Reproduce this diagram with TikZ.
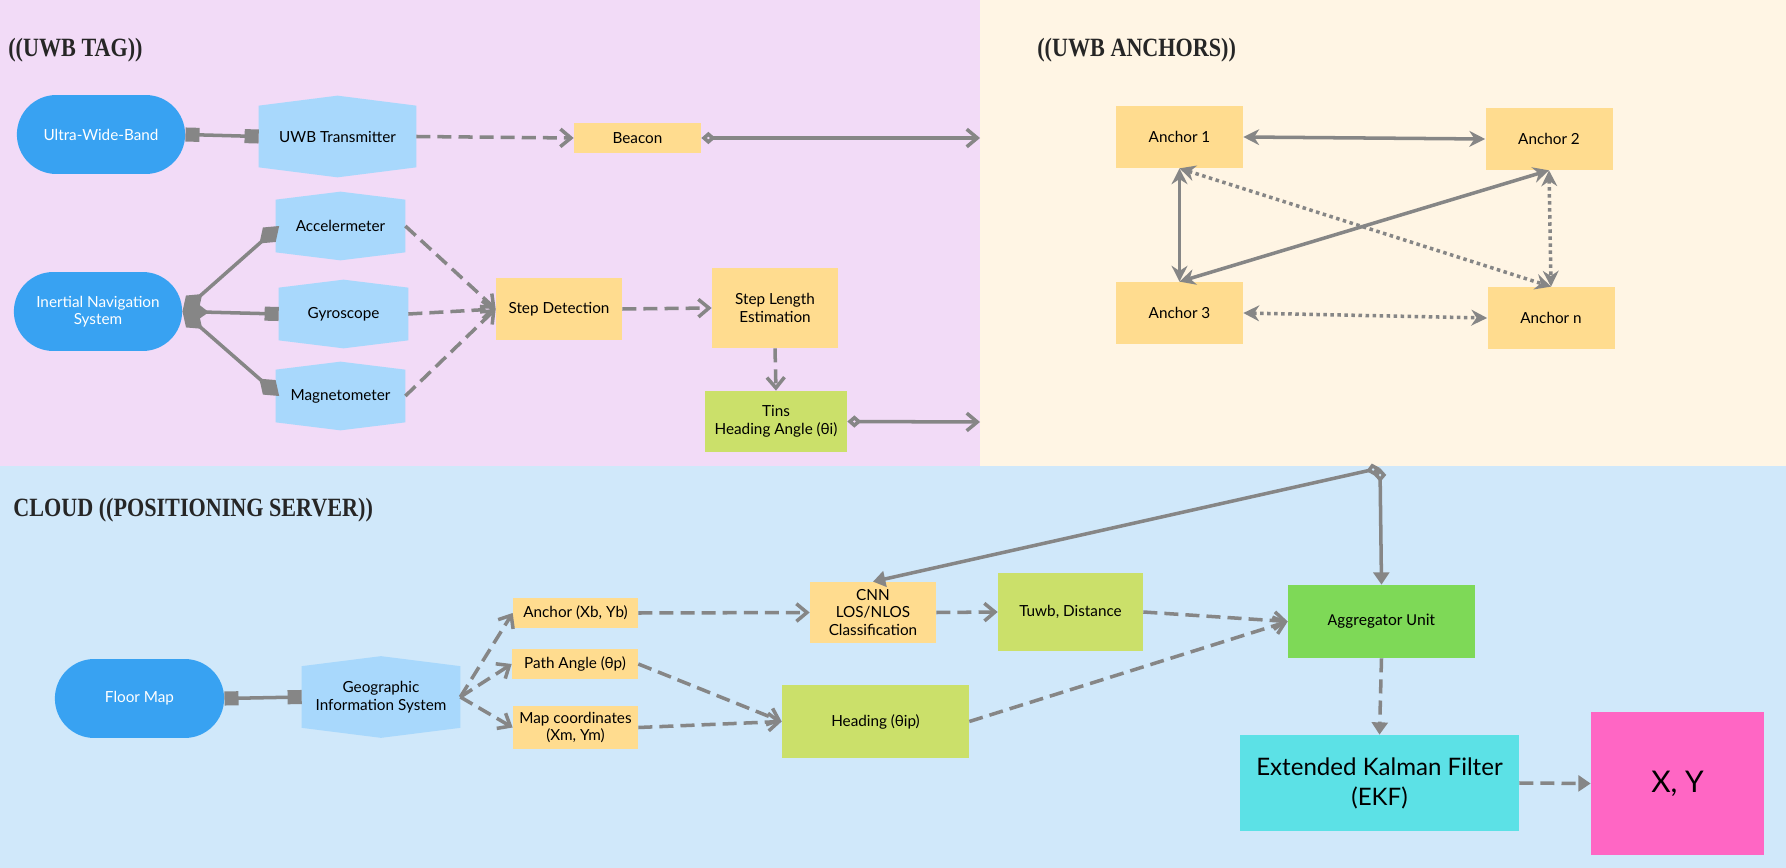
\documentclass[tikz,border=0pt]{standalone}
\usepackage{fontspec}
\setmainfont{Lato}
\newfontfamily\titlefont{Liberation Serif}[FakeStretch=0.84]
\newfontfamily\calfont{Carlito}
\usetikzlibrary{arrows.meta,shapes.misc,positioning}

\definecolor{tagbg}{HTML}{F2DBF7}
\definecolor{anchbg}{HTML}{FFF5E4}
\definecolor{cloudbg}{HTML}{D0E8FA}
\definecolor{srcblue}{HTML}{38A2F2}
\definecolor{hexblue}{HTML}{A8D8FC}
\definecolor{boxorange}{HTML}{FFDC8F}
\definecolor{boxlime}{HTML}{CBE06A}
\definecolor{aggreen}{HTML}{7ED957}
\definecolor{ekfcyan}{HTML}{5CE1E6}
\definecolor{xypink}{HTML}{FF66C4}
\definecolor{linegray}{HTML}{868686}

\pgfdeclarelayer{bg}
\pgfdeclarelayer{hexes}
\pgfsetlayers{bg,hexes,main}

\begin{document}
\begin{tikzpicture}[x=0.02cm, y=-0.02cm,
		font=\fontsize{8.7}{10}\selectfont,
		title/.style={anchor=west, inner sep=0pt, text=black!85, font={\titlefont\bfseries\fontsize{15}{16}\selectfont}},
		src/.style={rounded rectangle, fill=srcblue, text=white, minimum width=3.6cm, minimum height=1.58cm, align=center},
		hexbox/.style={minimum width=2.58cm, minimum height=1.04cm, inner sep=0pt, align=center},
		obox/.style={fill=boxorange, minimum width=2.54cm, minimum height=1.24cm, inner sep=0pt, align=center},
		gbox/.style={fill=boxlime, inner sep=0pt, align=center},
		link/.style={draw=linegray, line width=2pt},
		dashlink/.style={link, dash pattern=on 8pt off 4pt},
		dotlink/.style={link, line width=2pt, dash pattern=on 2pt off 2pt},
		sqtip/.tip={Square[length=8pt,width=8pt]},
		dmtip/.tip={Diamond[length=15pt,width=11pt]},
		odmtip/.tip={Diamond[open,length=8pt,width=7pt]},
		barbtip/.tip={Straight Barb[length=6pt,width=10pt]},
		tritip/.tip={Triangle[length=7pt,width=9pt]},
		sttip/.tip={Stealth[length=9pt,width=9pt]},
		openhead/.style={-barbtip},
		fillhead/.style={-tritip},
		bihead/.style={sttip-sttip},
	]
	
	\useasboundingbox (0,0) rectangle (1786,868);
	
	% three areas
	\begin{pgfonlayer}{bg}
		\fill[tagbg] (0,0) rectangle (980,466);
		\fill[anchbg] (980,0) rectangle (1786,466);
		\fill[cloudbg] (0,466) rectangle (1786,868);
	\end{pgfonlayer}
	
	% uwb tag
	\node[title] (tagt) at (8,50) {((UWB TAG))};
	\node[src] (uwb) at (101,134.5) {Ultra-Wide-Band};
	\node[hexbox, minimum width=3.14cm, minimum height=1.22cm] (tx) at (337.5,136.5) {UWB Transmitter};
	\node[obox, minimum height=0.6cm] (bcn) at (637.5,138) {Beacon};
	\node[src] (ins) at (98,311.5) {Inertial Navigation\\System};
	\node[hexbox] (acc) at (340.5,226) {Accelermeter};
	\node[hexbox] (gyr) at (343.5,314) {Gyroscope};
	\node[hexbox] (mag) at (340.5,396) {Magnetometer};
	\node[obox, minimum width=2.52cm] (step) at (559,309) {Step Detection};
	\node[obox, minimum width=2.52cm, minimum height=1.6cm] (sle) at (775,308) {Step Length\\Estimation};
	\node[gbox, minimum width=2.84cm, minimum height=1.22cm] (tins) at (776,421.5) {Tins\\Heading Angle (θi)};
	\coordinate (bcnend) at (980,138);
	\coordinate (tinsend) at (980,422);
	
	\draw[link, sqtip-sqtip] (uwb.east) -- (tx.west);
	\draw[dashlink, openhead] (tx.east) -- (bcn.west);
	\draw[link, odmtip-barbtip] (bcn.east) -- (bcnend);
	\draw[link, dmtip-dmtip] (ins.east) -- ([xshift=2pt]acc.west);
	\draw[link, dmtip-sqtip] (ins.east) -- (gyr.west);
	\draw[link, dmtip-dmtip] (ins.east) -- ([xshift=2pt]mag.west);
	\foreach \s in {acc,gyr,mag}
		\draw[dashlink, openhead] (\s.east) -- (step.west);
	\draw[dashlink, openhead] (step.east) -- (sle.west);
	\draw[dashlink, openhead] (sle.south) -- (tins.north);
	\draw[link, odmtip-barbtip] (tins.east) -- (tinsend);
	
	% uwb anchors
	\node[title] (ancht) at (1037,50) {((UWB ANCHORS))};
	\node[obox] (a1) at (1179.5,137) {Anchor 1};
	\node[obox] (a2) at (1549,139) {Anchor 2};
	\node[obox] (a3) at (1179.5,313) {Anchor 3};
	\node[obox] (an) at (1551,318) {Anchor n};
	
	\draw[link, bihead] (a1.east) -- (a2.west);
	\draw[link, bihead] (a1.south) -- (a3.north);
	\draw[link, bihead] (a3.north) -- (a2.south);
	\draw[dotlink, bihead] (a1.south) -- (an.north);
	\draw[dotlink, bihead] (a2.south) -- (an.north);
	\draw[dotlink, bihead] (a3.east) -- (an.west);
	
	% cloud
	\node[title] (cloudt) at (13,510) {CLOUD ((POSITIONING SERVER))};
	\node[src, minimum width=3.62cm] (flr) at (139.5,698.5) {Floor Map};
	\node[hexbox, minimum width=3.16cm, minimum height=1.22cm] (gis) at (381,697) {Geographic\\Information System};
	\node[obox, minimum width=2.5cm, minimum height=0.6cm] (axy) at (575.5,613) {Anchor (Xb, Yb)};
	\node[obox, minimum width=2.52cm, minimum height=0.6cm] (pang) at (575,664) {Path Angle (θp)};
	\node[obox, minimum width=2.5cm, minimum height=0.86cm] (mxy) at (575.5,727.5) {Map coordinates\\(Xm, Ym)};
	\node[obox, minimum width=2.52cm, minimum height=1.22cm] (cnn) at (873,612.5) {CNN\\LOS/NLOS\\Classification};
	\node[gbox, minimum width=2.9cm, minimum height=1.56cm] (tuwb) at (1070.5,612) {Tuwb, Distance};
	\node[gbox, minimum width=3.74cm, minimum height=1.46cm] (hdg) at (875.5,721.5) {Heading (θip)};
	\node[fill=aggreen, minimum width=3.74cm, minimum height=1.46cm, font={\calfont\fontsize{9.5}{11}\selectfont}] (agg) at (1381.5,621.5) {Aggregator Unit};
	\node[fill=ekfcyan, minimum width=5.58cm, minimum height=1.92cm, align=center, font=\fontsize{13.7}{17}\selectfont] (ekf) at (1379.5,783) {Extended Kalman Filter\\(EKF)};
	\node[fill=xypink, minimum width=3.46cm, minimum height=2.86cm, font=\fontsize{17}{20}\selectfont] (xy) at (1677.5,783.5) {X, Y};
	\coordinate (jn) at (1380,468);
	
	\draw[link, sqtip-sqtip] (flr.east) -- (gis.west);
	\foreach \b in {axy,pang,mxy}
		\draw[dashlink, openhead] (gis.east) -- (\b.west);
	\draw[dashlink, openhead] (axy.east) -- (cnn.west);
	\draw[dashlink, openhead] (cnn.east) -- (tuwb.west);
	\draw[dashlink, openhead] (pang.east) -- (hdg.west);
	\draw[dashlink, openhead] (mxy.east) -- (hdg.west);
	\draw[dashlink, openhead] (tuwb.east) -- (agg.west);
	\draw[dashlink, openhead] (hdg.east) -- (agg.west);
	\draw[link, odmtip-tritip] (jn) -- (cnn.north);
	\draw[link, odmtip-tritip] (jn) -- (agg.north);
	\draw[dashlink, fillhead] (agg.south) -- (ekf.north);
	\draw[dashlink, fillhead] (ekf.east) -- (xy.west);
	
	% hexagon bodies
	\begin{pgfonlayer}{hexes}
		\foreach \n/\p in {tx/0.2,acc/0.16,gyr/0.16,mag/0.16,gis/0.2}
			\fill[hexblue] (\n.north west) -- ([yshift=\p cm]\n.north) -- (\n.north east) -- (\n.south east) -- ([yshift=-\p cm]\n.south) -- (\n.south west) -- cycle;
	\end{pgfonlayer}
	
\end{tikzpicture}
\end{document}
